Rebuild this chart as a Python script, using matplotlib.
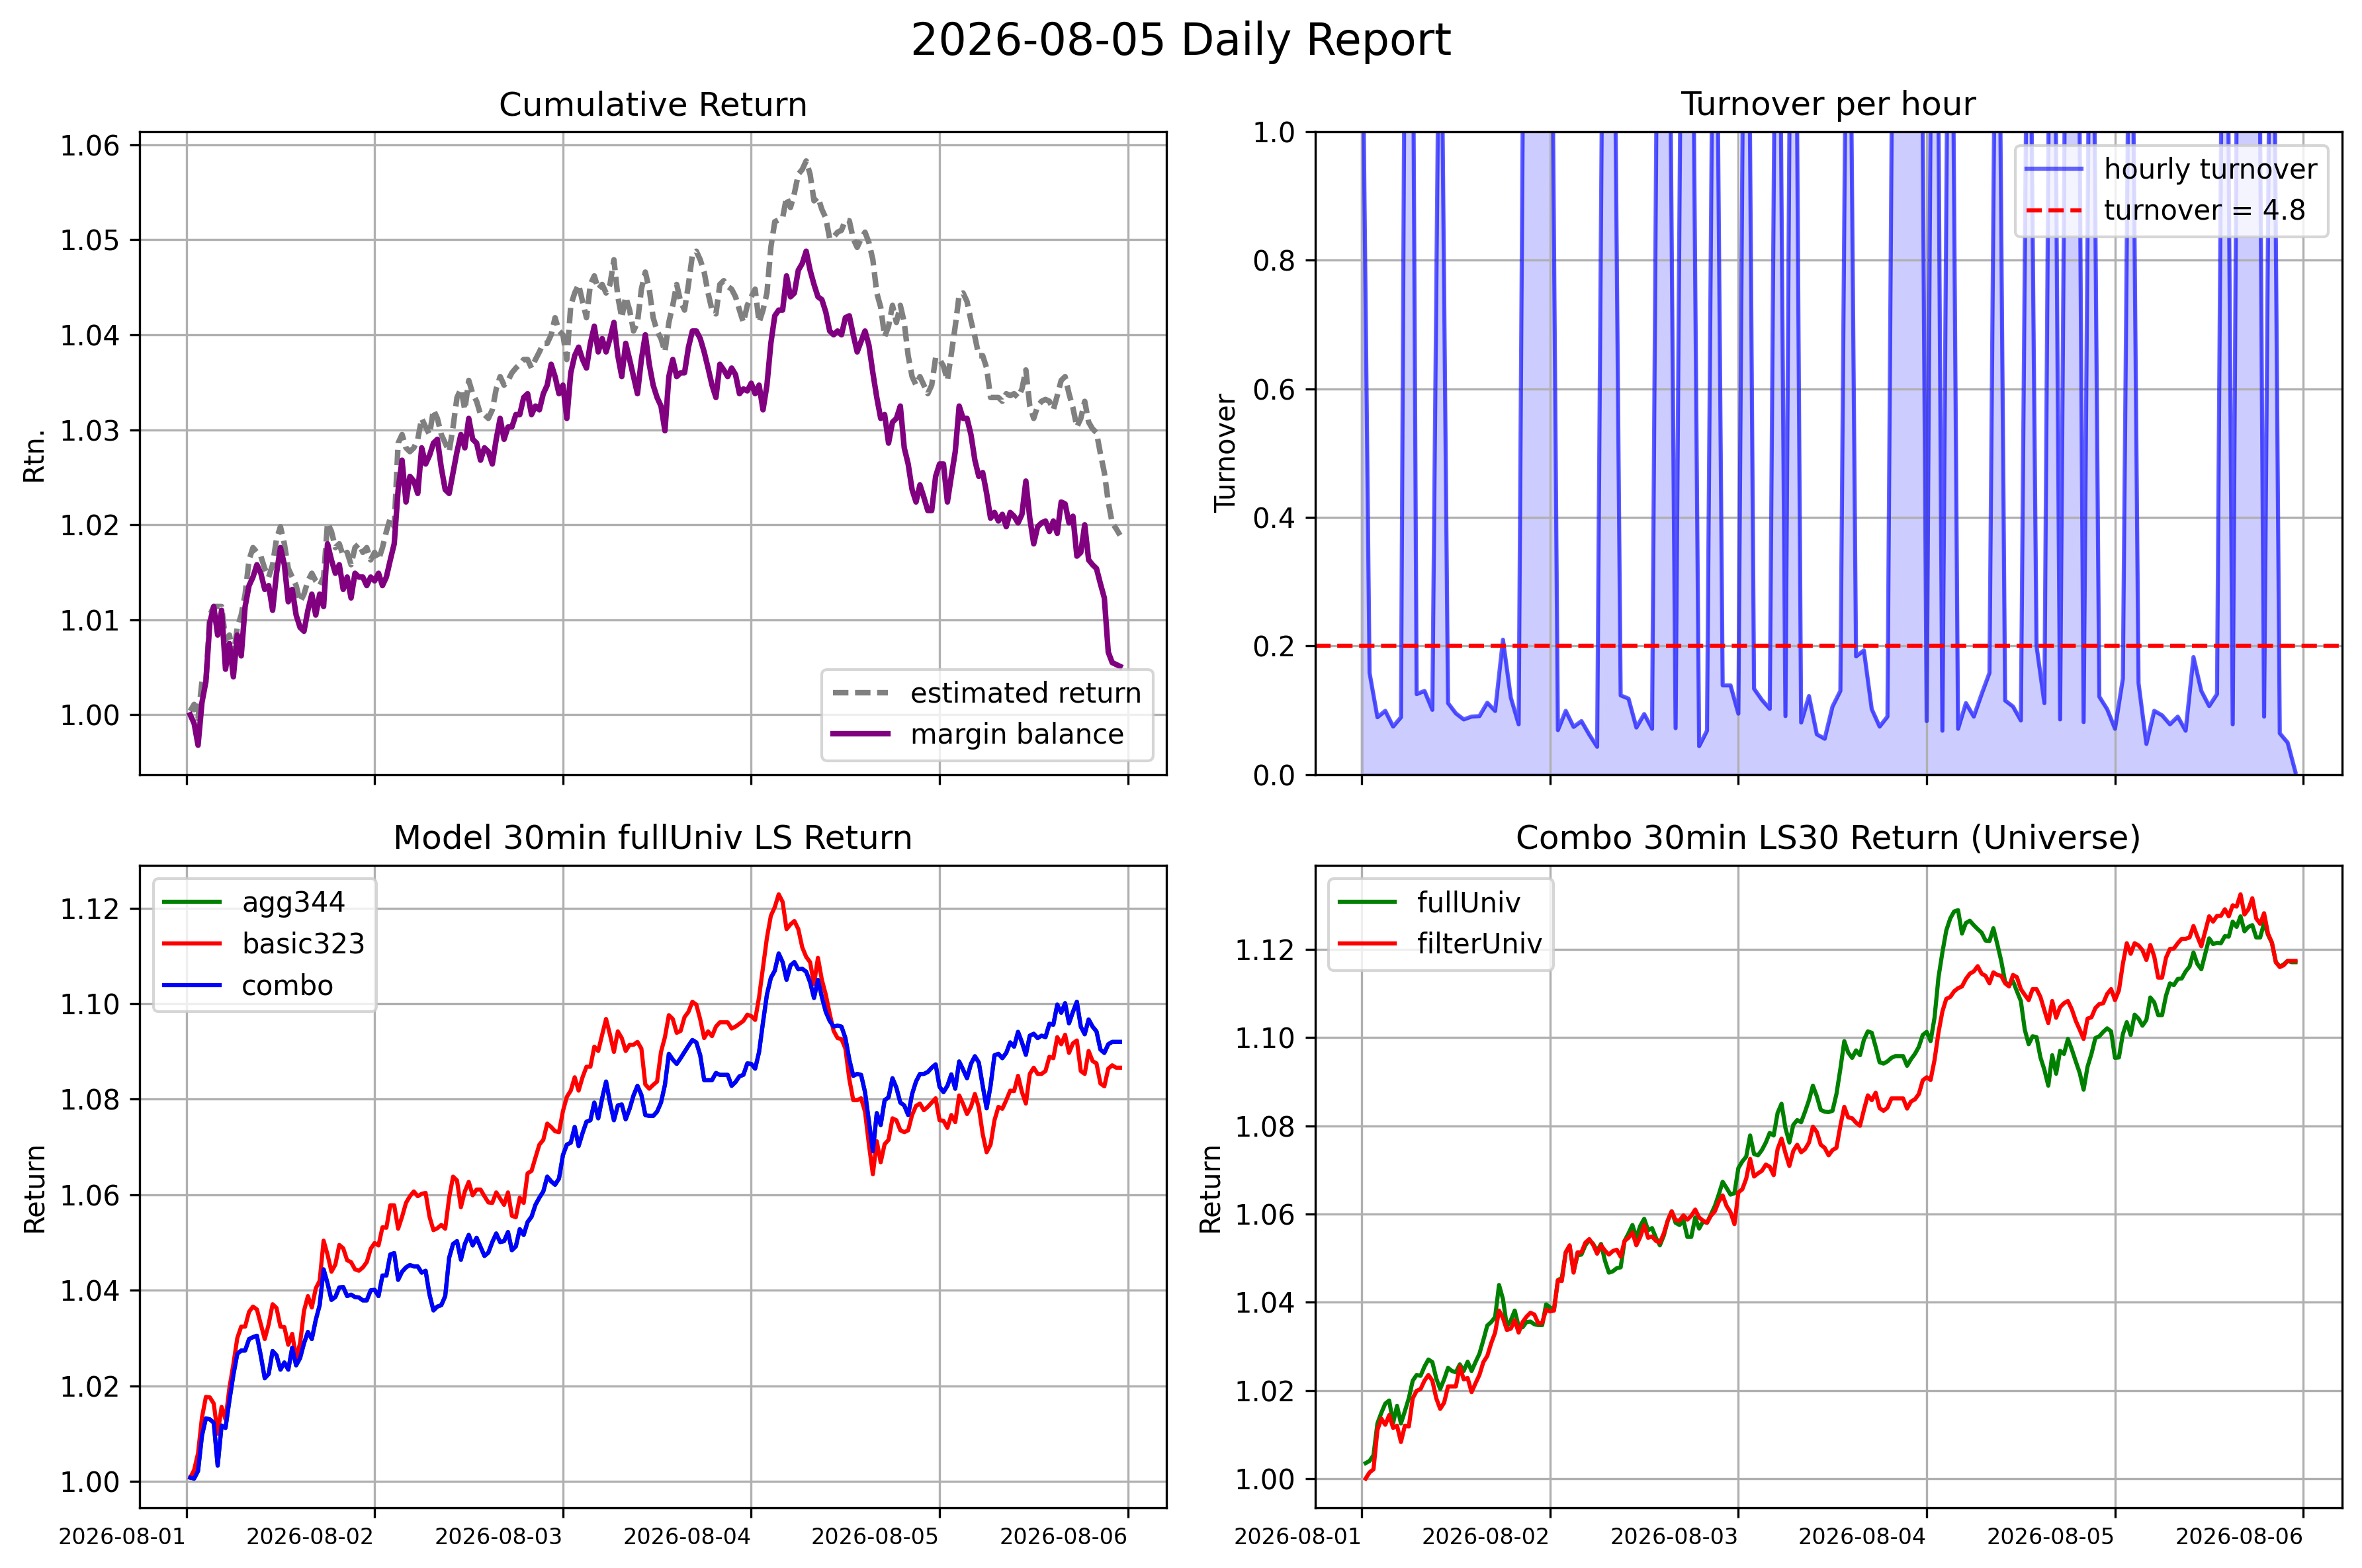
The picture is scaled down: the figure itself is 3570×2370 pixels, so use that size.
import matplotlib
matplotlib.use('Agg')
import matplotlib.pyplot as plt
import matplotlib.dates as mdates
import pandas as pd

# 30-min bars, 2026-08-01 00:30 .. 2026-08-05 23:00
t30 = pd.date_range('2026-08-01 00:30', periods=238, freq='30min')
# hourly, 2026-08-01 00:00 .. 2026-08-05 23:00
t1h = pd.date_range('2026-08-01 00:00', periods=120, freq='h')

est_ret = [
    1.0004, 1.0011, 0.9996, 1.0035, 1.0035, 1.0105, 1.0114, 1.0114, 1.0114, 1.0079,
    1.0084, 1.0062, 1.0092, 1.0105, 1.0127, 1.0163, 1.0176, 1.0171, 1.0167, 1.0154,
    1.0145, 1.0158, 1.0185, 1.0198, 1.0180, 1.0154, 1.0145, 1.0136, 1.0119, 1.0127,
    1.0141, 1.0149, 1.0141, 1.0136, 1.0145, 1.0202, 1.0193, 1.0176, 1.0180, 1.0167,
    1.0171, 1.0158, 1.0176, 1.0180, 1.0171, 1.0176, 1.0163, 1.0171, 1.0163, 1.0176,
    1.0193, 1.0207, 1.0198, 1.0286, 1.0295, 1.0281, 1.0277, 1.0281, 1.0290, 1.0312,
    1.0303, 1.0295, 1.0321, 1.0312, 1.0295, 1.0286, 1.0277, 1.0303, 1.0334, 1.0343,
    1.0321, 1.0352, 1.0338, 1.0330, 1.0316, 1.0316, 1.0312, 1.0321, 1.0343, 1.0356,
    1.0347, 1.0352, 1.0360, 1.0365, 1.0369, 1.0374, 1.0374, 1.0365, 1.0374, 1.0382,
    1.0391, 1.0391, 1.0400, 1.0418, 1.0404, 1.0400, 1.0374, 1.0431, 1.0444, 1.0453,
    1.0435, 1.0418, 1.0453, 1.0462, 1.0448, 1.0453, 1.0444, 1.0453, 1.0479, 1.0440,
    1.0418, 1.0440, 1.0426, 1.0404, 1.0413, 1.0448, 1.0466, 1.0448, 1.0418, 1.0404,
    1.0396, 1.0382, 1.0413, 1.0431, 1.0453, 1.0435, 1.0426, 1.0453, 1.0484, 1.0488,
    1.0479, 1.0466, 1.0444, 1.0426, 1.0422, 1.0453, 1.0457, 1.0451, 1.0448, 1.0440,
    1.0426, 1.0413, 1.0431, 1.0440, 1.0448, 1.0413, 1.0426, 1.0444, 1.0492, 1.0519,
    1.0521, 1.0523, 1.0545, 1.0534, 1.0549, 1.0569, 1.0574, 1.0583, 1.0569, 1.0541,
    1.0545, 1.0532, 1.0523, 1.0501, 1.0503, 1.0508, 1.0510, 1.0521, 1.0520, 1.0501,
    1.0492, 1.0501, 1.0508, 1.0497, 1.0479, 1.0444, 1.0429, 1.0398, 1.0409, 1.0431,
    1.0413, 1.0431, 1.0413, 1.0378, 1.0356, 1.0347, 1.0356, 1.0347, 1.0338, 1.0347,
    1.0376, 1.0374, 1.0367, 1.0352, 1.0380, 1.0409, 1.0442, 1.0444, 1.0435, 1.0415,
    1.0398, 1.0378, 1.0378, 1.0365, 1.0334, 1.0334, 1.0334, 1.0330, 1.0338, 1.0336,
    1.0338, 1.0334, 1.0343, 1.0363, 1.0325, 1.0312, 1.0325, 1.0330, 1.0332, 1.0330,
    1.0321, 1.0336, 1.0352, 1.0356, 1.0338, 1.0323, 1.0303, 1.0312, 1.0330, 1.0308,
    1.0301, 1.0297, 1.0275, 1.0255, 1.0224, 1.0202, 1.0196, 1.0189,
]

margin_bal = [
    1.0000, 0.9991, 0.9968, 1.0013, 1.0035, 1.0097, 1.0114, 1.0084, 1.0110, 1.0048,
    1.0075, 1.0040, 1.0084, 1.0062, 1.0114, 1.0136, 1.0145, 1.0158, 1.0149, 1.0132,
    1.0136, 1.0110, 1.0149, 1.0176, 1.0158, 1.0119, 1.0132, 1.0105, 1.0092, 1.0088,
    1.0110, 1.0127, 1.0105, 1.0127, 1.0114, 1.0180, 1.0163, 1.0149, 1.0158, 1.0132,
    1.0145, 1.0123, 1.0149, 1.0145, 1.0145, 1.0136, 1.0145, 1.0141, 1.0149, 1.0136,
    1.0145, 1.0163, 1.0180, 1.0237, 1.0268, 1.0224, 1.0251, 1.0246, 1.0233, 1.0281,
    1.0264, 1.0273, 1.0286, 1.0290, 1.0260, 1.0237, 1.0233, 1.0255, 1.0277, 1.0295,
    1.0281, 1.0312, 1.0290, 1.0286, 1.0268, 1.0281, 1.0277, 1.0264, 1.0290, 1.0312,
    1.0290, 1.0303, 1.0303, 1.0316, 1.0316, 1.0334, 1.0338, 1.0316, 1.0325, 1.0321,
    1.0338, 1.0347, 1.0369, 1.0356, 1.0338, 1.0347, 1.0312, 1.0360, 1.0378, 1.0387,
    1.0374, 1.0365, 1.0391, 1.0409, 1.0382, 1.0396, 1.0382, 1.0396, 1.0413, 1.0378,
    1.0356, 1.0391, 1.0374, 1.0356, 1.0338, 1.0374, 1.0400, 1.0369, 1.0347, 1.0334,
    1.0325, 1.0299, 1.0356, 1.0374, 1.0356, 1.0360, 1.0360, 1.0387, 1.0404, 1.0404,
    1.0396, 1.0382, 1.0365, 1.0347, 1.0334, 1.0369, 1.0363, 1.0356, 1.0365, 1.0358,
    1.0338, 1.0343, 1.0341, 1.0349, 1.0338, 1.0347, 1.0321, 1.0347, 1.0391, 1.0420,
    1.0426, 1.0426, 1.0462, 1.0440, 1.0444, 1.0468, 1.0475, 1.0488, 1.0468, 1.0453,
    1.0440, 1.0437, 1.0424, 1.0404, 1.0400, 1.0404, 1.0400, 1.0418, 1.0420, 1.0400,
    1.0382, 1.0393, 1.0404, 1.0389, 1.0360, 1.0334, 1.0312, 1.0316, 1.0286, 1.0308,
    1.0312, 1.0325, 1.0281, 1.0264, 1.0237, 1.0224, 1.0242, 1.0229, 1.0215, 1.0215,
    1.0251, 1.0264, 1.0264, 1.0224, 1.0251, 1.0277, 1.0325, 1.0312, 1.0312, 1.0295,
    1.0268, 1.0251, 1.0255, 1.0233, 1.0207, 1.0213, 1.0204, 1.0211, 1.0198, 1.0213,
    1.0209, 1.0202, 1.0211, 1.0246, 1.0207, 1.0180, 1.0198, 1.0202, 1.0204, 1.0193,
    1.0204, 1.0191, 1.0224, 1.0222, 1.0202, 1.0209, 1.0167, 1.0171, 1.0200, 1.0163,
    1.0158, 1.0154, 1.0138, 1.0123, 1.0066, 1.0055, 1.0053, 1.0051,
]

# hourly turnover; values above 1 are cut off by the axis
turnover = [
    1.3, 0.158, 0.089, 0.099, 0.0745, 0.089, 2.4, 0.125, 0.130, 0.1005,
    1.4, 0.111, 0.095, 0.0856, 0.090, 0.0908, 0.1116, 0.0988, 0.2097, 0.1196,
    0.078, 1.9, 2.2, 1.8, 1.6, 0.069, 0.099, 0.074, 0.083, 0.062,
    0.043, 1.7, 1.5, 0.123, 0.118, 0.073, 0.094, 0.071, 1.8, 1.6,
    0.072, 1.7, 1.5, 0.044, 0.068, 1.6, 0.1386, 0.1386, 0.0946, 1.8,
    0.1334, 0.116, 0.102, 1.7, 0.0908, 1.9, 0.0808, 0.122, 0.0624, 0.0555,
    0.1057, 0.130, 1.6, 0.1837, 0.193, 0.1016, 0.0745, 0.090, 1.8, 2.1,
    1.7, 1.9, 0.083, 2.0, 0.068, 1.7, 0.071, 0.111, 0.090, 0.125,
    0.158, 1.6, 0.115, 0.1057, 0.084, 1.5, 0.200, 0.111, 1.8, 0.0856,
    1.7, 1.9, 0.0815, 1.6, 0.121, 0.1016, 0.071, 0.149, 1.5, 0.142,
    0.0475, 0.099, 0.092, 0.078, 0.090, 0.068, 0.1827, 0.130, 0.1064, 0.125,
    1.8, 0.078, 2.0, 1.7, 1.9, 0.090, 1.6, 0.064, 0.0496, 0.0035,
]
turnover_target = 4.8

basic323 = [
    1.0008, 1.0024, 1.0059, 1.0134, 1.0177, 1.0176, 1.0163, 1.0100, 1.0156, 1.0130,
    1.0196, 1.0245, 1.0300, 1.0324, 1.0324, 1.0355, 1.0366, 1.0360, 1.0329, 1.0298,
    1.0329, 1.0371, 1.0363, 1.0324, 1.0323, 1.0286, 1.0309, 1.0258, 1.0289, 1.0357,
    1.0388, 1.0364, 1.0404, 1.0420, 1.0504, 1.0475, 1.0439, 1.0454, 1.0495, 1.0488,
    1.0463, 1.0459, 1.0444, 1.0441, 1.0448, 1.0459, 1.0487, 1.0499, 1.0494, 1.0532,
    1.0531, 1.0578, 1.0578, 1.0529, 1.0554, 1.0583, 1.0597, 1.0607, 1.0597, 1.0602,
    1.0604, 1.0554, 1.0526, 1.0530, 1.0537, 1.0529, 1.0594, 1.0638, 1.0630, 1.0574,
    1.0607, 1.0627, 1.0599, 1.0611, 1.0611, 1.0597, 1.0584, 1.0583, 1.0605, 1.0592,
    1.0579, 1.0605, 1.0556, 1.0553, 1.0594, 1.0583, 1.0645, 1.0650, 1.0678, 1.0705,
    1.0715, 1.0749, 1.0742, 1.0733, 1.0731, 1.0775, 1.0805, 1.0818, 1.0846, 1.0818,
    1.0846, 1.0868, 1.0868, 1.0910, 1.0901, 1.0935, 1.0968, 1.0935, 1.0899, 1.0942,
    1.0928, 1.0901, 1.0914, 1.0914, 1.0920, 1.0906, 1.0831, 1.0822, 1.0830, 1.0837,
    1.0899, 1.0930, 1.0976, 1.0968, 1.0939, 1.0943, 1.0972, 1.0983, 1.1004, 1.0998,
    1.0967, 1.0928, 1.0942, 1.0932, 1.0952, 1.0961, 1.0961, 1.0961, 1.0948, 1.0952,
    1.0958, 1.0964, 1.0977, 1.0974, 1.0966, 1.1014, 1.1076, 1.1138, 1.1184, 1.1202,
    1.1229, 1.1213, 1.1156, 1.1166, 1.1173, 1.1156, 1.1118, 1.1098, 1.1087, 1.1041,
    1.1096, 1.1050, 1.1019, 1.0979, 1.0943, 1.0928, 1.0926, 1.0906, 1.0842, 1.0798,
    1.0798, 1.0802, 1.0774, 1.0705, 1.0643, 1.0712, 1.0668, 1.0706, 1.0715, 1.0760,
    1.0756, 1.0735, 1.0731, 1.0735, 1.0767, 1.0786, 1.0791, 1.0777, 1.0784, 1.0793,
    1.0802, 1.0756, 1.0755, 1.0740, 1.0767, 1.0752, 1.0808, 1.0790, 1.0769, 1.0784,
    1.0811, 1.0783, 1.0727, 1.0689, 1.0705, 1.0756, 1.0784, 1.0780, 1.0798, 1.0818,
    1.0817, 1.0849, 1.0815, 1.0791, 1.0853, 1.0866, 1.0853, 1.0853, 1.0859, 1.0889,
    1.0886, 1.0930, 1.0915, 1.0935, 1.0897, 1.0917, 1.0923, 1.0859, 1.0853, 1.0901,
    1.0880, 1.0875, 1.0833, 1.0827, 1.0864, 1.0871, 1.0866, 1.0866,
]

combo = [
    1.0008, 1.0006, 1.0022, 1.0096, 1.0132, 1.0130, 1.0123, 1.0033, 1.0117, 1.0112,
    1.0170, 1.0223, 1.0267, 1.0274, 1.0274, 1.0298, 1.0302, 1.0305, 1.0263, 1.0216,
    1.0225, 1.0273, 1.0264, 1.0234, 1.0249, 1.0234, 1.0280, 1.0243, 1.0258, 1.0289,
    1.0313, 1.0298, 1.0338, 1.0369, 1.0444, 1.0415, 1.0380, 1.0386, 1.0406, 1.0407,
    1.0388, 1.0391, 1.0386, 1.0385, 1.0379, 1.0379, 1.0400, 1.0401, 1.0388, 1.0431,
    1.0431, 1.0475, 1.0478, 1.0422, 1.0439, 1.0448, 1.0453, 1.0450, 1.0450, 1.0437,
    1.0441, 1.0391, 1.0358, 1.0366, 1.0369, 1.0388, 1.0468, 1.0497, 1.0503, 1.0464,
    1.0497, 1.0516, 1.0494, 1.0510, 1.0491, 1.0472, 1.0479, 1.0501, 1.0519, 1.0501,
    1.0503, 1.0522, 1.0484, 1.0492, 1.0528, 1.0516, 1.0543, 1.0554, 1.0579, 1.0594,
    1.0607, 1.0638, 1.0628, 1.0621, 1.0634, 1.0683, 1.0705, 1.0709, 1.0742, 1.0702,
    1.0729, 1.0753, 1.0756, 1.0793, 1.0760, 1.0802, 1.0837, 1.0793, 1.0756, 1.0787,
    1.0789, 1.0758, 1.0780, 1.0808, 1.0828, 1.0809, 1.0767, 1.0765, 1.0765, 1.0774,
    1.0793, 1.0830, 1.0895, 1.0883, 1.0874, 1.0886, 1.0899, 1.0912, 1.0924, 1.0919,
    1.0892, 1.0840, 1.0840, 1.0840, 1.0855, 1.0851, 1.0851, 1.0851, 1.0828, 1.0836,
    1.0848, 1.0851, 1.0875, 1.0874, 1.0864, 1.0899, 1.0961, 1.1019, 1.1054, 1.1069,
    1.1105, 1.1087, 1.1050, 1.1080, 1.1087, 1.1072, 1.1073, 1.1067, 1.1045, 1.1012,
    1.1050, 1.1014, 1.0983, 1.0964, 1.0952, 1.0954, 1.0952, 1.0928, 1.0883, 1.0849,
    1.0853, 1.0851, 1.0815, 1.0753, 1.0691, 1.0771, 1.0746, 1.0798, 1.0804, 1.0844,
    1.0824, 1.0793, 1.0787, 1.0767, 1.0811, 1.0837, 1.0853, 1.0853, 1.0857, 1.0866,
    1.0873, 1.0826, 1.0815, 1.0828, 1.0852, 1.0822, 1.0879, 1.0862, 1.0844, 1.0874,
    1.0890, 1.0877, 1.0828, 1.0781, 1.0828, 1.0892, 1.0895, 1.0886, 1.0897, 1.0919,
    1.0910, 1.0941, 1.0919, 1.0893, 1.0933, 1.0937, 1.0928, 1.0933, 1.0930, 1.0958,
    1.0956, 1.0998, 1.0981, 1.1001, 1.0959, 1.0983, 1.1004, 1.0952, 1.0936, 1.0967,
    1.0952, 1.0942, 1.0904, 1.0897, 1.0915, 1.0920, 1.0920, 1.0920,
]

# agg344 is drawn but sits exactly under combo in the picture
agg344 = list(combo)

full_univ = [
    1.0035, 1.0040, 1.0053, 1.0125, 1.0149, 1.0170, 1.0177, 1.0126, 1.0165, 1.0125,
    1.0153, 1.0182, 1.0222, 1.0235, 1.0233, 1.0254, 1.0270, 1.0264, 1.0227, 1.0203,
    1.0225, 1.0251, 1.0244, 1.0241, 1.0259, 1.0244, 1.0265, 1.0244, 1.0264, 1.0283,
    1.0314, 1.0347, 1.0355, 1.0366, 1.0439, 1.0407, 1.0345, 1.0359, 1.0381, 1.0345,
    1.0343, 1.0355, 1.0356, 1.0350, 1.0348, 1.0348, 1.0395, 1.0388, 1.0383, 1.0450,
    1.0455, 1.0513, 1.0527, 1.0470, 1.0506, 1.0508, 1.0529, 1.0541, 1.0532, 1.0516,
    1.0532, 1.0494, 1.0467, 1.0470, 1.0477, 1.0479, 1.0539, 1.0556, 1.0575, 1.0546,
    1.0573, 1.0589, 1.0563, 1.0568, 1.0546, 1.0529, 1.0551, 1.0585, 1.0606, 1.0580,
    1.0575, 1.0586, 1.0548, 1.0548, 1.0592, 1.0567, 1.0583, 1.0580, 1.0599, 1.0618,
    1.0644, 1.0673, 1.0659, 1.0644, 1.0647, 1.0704, 1.0719, 1.0730, 1.0778, 1.0736,
    1.0733, 1.0745, 1.0762, 1.0784, 1.0778, 1.0829, 1.0850, 1.0795, 1.0762, 1.0802,
    1.0813, 1.0808, 1.0832, 1.0858, 1.0891, 1.0867, 1.0836, 1.0832, 1.0831, 1.0834,
    1.0872, 1.0929, 1.0992, 1.0966, 1.0954, 1.0971, 1.0960, 1.0995, 1.1014, 1.1011,
    1.0979, 1.0944, 1.0941, 1.0946, 1.0954, 1.0958, 1.0958, 1.0958, 1.0936, 1.0951,
    1.0963, 1.0979, 1.1006, 1.1013, 1.0992, 1.1045, 1.1136, 1.1193, 1.1243, 1.1270,
    1.1286, 1.1289, 1.1236, 1.1260, 1.1265, 1.1255, 1.1246, 1.1238, 1.1220, 1.1219,
    1.1248, 1.1212, 1.1174, 1.1126, 1.1119, 1.1128, 1.1105, 1.1083, 1.1018, 1.0985,
    1.1003, 1.1001, 1.0955, 1.0927, 1.0891, 1.0960, 1.0918, 1.0970, 1.0963, 1.0997,
    1.0973, 1.0946, 1.0920, 1.0882, 1.0934, 1.0963, 1.0999, 1.1003, 1.1013, 1.1021,
    1.1014, 1.0954, 1.0955, 1.1008, 1.1035, 1.1006, 1.1052, 1.1043, 1.1027, 1.1040,
    1.1091, 1.1080, 1.1051, 1.1051, 1.1095, 1.1123, 1.1119, 1.1133, 1.1134, 1.1150,
    1.1161, 1.1193, 1.1167, 1.1155, 1.1190, 1.1225, 1.1212, 1.1215, 1.1214, 1.1230,
    1.1229, 1.1263, 1.1251, 1.1275, 1.1241, 1.1251, 1.1255, 1.1227, 1.1227, 1.1260,
    1.1233, 1.1215, 1.1171, 1.1161, 1.1166, 1.1174, 1.1171, 1.1171,
]

filter_univ = [
    1.0000, 1.0014, 1.0021, 1.0110, 1.0136, 1.0122, 1.0144, 1.0115, 1.0120, 1.0083,
    1.0120, 1.0118, 1.0182, 1.0199, 1.0203, 1.0222, 1.0235, 1.0222, 1.0182, 1.0158,
    1.0172, 1.0209, 1.0209, 1.0209, 1.0254, 1.0225, 1.0228, 1.0196, 1.0216, 1.0235,
    1.0264, 1.0278, 1.0307, 1.0331, 1.0381, 1.0364, 1.0337, 1.0340, 1.0359, 1.0331,
    1.0355, 1.0367, 1.0376, 1.0372, 1.0352, 1.0353, 1.0383, 1.0379, 1.0381, 1.0450,
    1.0448, 1.0513, 1.0529, 1.0467, 1.0513, 1.0513, 1.0535, 1.0543, 1.0530, 1.0510,
    1.0529, 1.0517, 1.0508, 1.0516, 1.0519, 1.0503, 1.0539, 1.0546, 1.0558, 1.0529,
    1.0548, 1.0575, 1.0546, 1.0549, 1.0539, 1.0535, 1.0556, 1.0585, 1.0606, 1.0586,
    1.0585, 1.0597, 1.0587, 1.0596, 1.0610, 1.0592, 1.0585, 1.0580, 1.0596, 1.0606,
    1.0628, 1.0642, 1.0618, 1.0604, 1.0577, 1.0649, 1.0656, 1.0680, 1.0725, 1.0685,
    1.0692, 1.0698, 1.0712, 1.0707, 1.0688, 1.0747, 1.0771, 1.0738, 1.0709, 1.0743,
    1.0757, 1.0740, 1.0747, 1.0762, 1.0798, 1.0786, 1.0757, 1.0750, 1.0733, 1.0745,
    1.0750, 1.0800, 1.0843, 1.0819, 1.0817, 1.0807, 1.0800, 1.0836, 1.0869, 1.0858,
    1.0875, 1.0840, 1.0834, 1.0841, 1.0862, 1.0862, 1.0862, 1.0862, 1.0839, 1.0855,
    1.0860, 1.0872, 1.0903, 1.0910, 1.0904, 1.0949, 1.1011, 1.1059, 1.1088, 1.1092,
    1.1105, 1.1112, 1.1116, 1.1133, 1.1145, 1.1150, 1.1162, 1.1145, 1.1140, 1.1123,
    1.1148, 1.1142, 1.1140, 1.1123, 1.1116, 1.1142, 1.1137, 1.1110, 1.1097, 1.1085,
    1.1110, 1.1110, 1.1092, 1.1062, 1.1033, 1.1083, 1.1045, 1.1069, 1.1078, 1.1083,
    1.1064, 1.1038, 1.1018, 1.0997, 1.1043, 1.1046, 1.1067, 1.1076, 1.1078, 1.1099,
    1.1110, 1.1085, 1.1107, 1.1167, 1.1214, 1.1190, 1.1214, 1.1209, 1.1198, 1.1176,
    1.1210, 1.1184, 1.1136, 1.1136, 1.1181, 1.1201, 1.1202, 1.1214, 1.1224, 1.1224,
    1.1227, 1.1253, 1.1229, 1.1207, 1.1241, 1.1275, 1.1263, 1.1276, 1.1276, 1.1291,
    1.1275, 1.1300, 1.1297, 1.1325, 1.1279, 1.1291, 1.1316, 1.1270, 1.1258, 1.1282,
    1.1236, 1.1215, 1.1171, 1.1160, 1.1164, 1.1174, 1.1174, 1.1174,
]

fig, axes = plt.subplots(2, 2, figsize=(11.9, 7.9), dpi=300, sharex=True)
fig.subplots_adjust(left=0.0591, right=0.9916, bottom=0.0384, top=0.916,
                    wspace=0.1444, hspace=0.141)
fig.suptitle('2026-08-05 Daily Report', fontsize=16, y=0.987)

# cumulative return (thicker lines stand in for the minute-level noise)
ax = axes[0, 0]
ax.plot(t30, est_ret, color='gray', linestyle='--', lw=2.0, dashes=(2.8, 1.2),
        label='estimated return')
ax.plot(t30, margin_bal, color='purple', lw=2.0, label='margin balance')
ax.set_title('Cumulative Return')
ax.set_ylabel('Rtn.')
ax.legend(loc='lower right')
ax.grid(True)

# turnover
ax = axes[0, 1]
ax.plot(t1h, turnover, color='blue', alpha=0.6, label='hourly turnover')
ax.fill_between(t1h, turnover, color='blue', alpha=0.2)
ax.axhline(turnover_target / 24, color='red', linestyle='--',
           label=f'turnover = {turnover_target}')
ax.set_ylim(0, 1)
ax.set_title('Turnover per hour')
ax.set_ylabel('Turnover')
ax.legend(loc='upper right')
ax.grid(True)

# model returns
ax = axes[1, 0]
ax.plot(t30, agg344, color='green', label='agg344')
ax.plot(t30, basic323, color='red', label='basic323')
ax.plot(t30, combo, color='blue', label='combo')
ax.set_title('Model 30min fullUniv LS Return')
ax.set_ylabel('Return')
ax.legend(loc='upper left')
ax.grid(True)

# universe comparison
ax = axes[1, 1]
ax.plot(t30, full_univ, color='green', label='fullUniv')
ax.plot(t30, filter_univ, color='red', label='filterUniv')
ax.set_title('Combo 30min LS30 Return (Universe)')
ax.set_ylabel('Return')
ax.legend(loc='upper left')
ax.grid(True)

for ax in axes.flat:
    ax.xaxis.set_major_locator(mdates.DayLocator())
    ax.xaxis.set_major_formatter(mdates.DateFormatter('%Y-%m-%d'))
    ax.tick_params(axis='x', labelsize=8)
    plt.setp(ax.get_xticklabels(), ha='right')

fig.savefig('out.png', dpi=300)
